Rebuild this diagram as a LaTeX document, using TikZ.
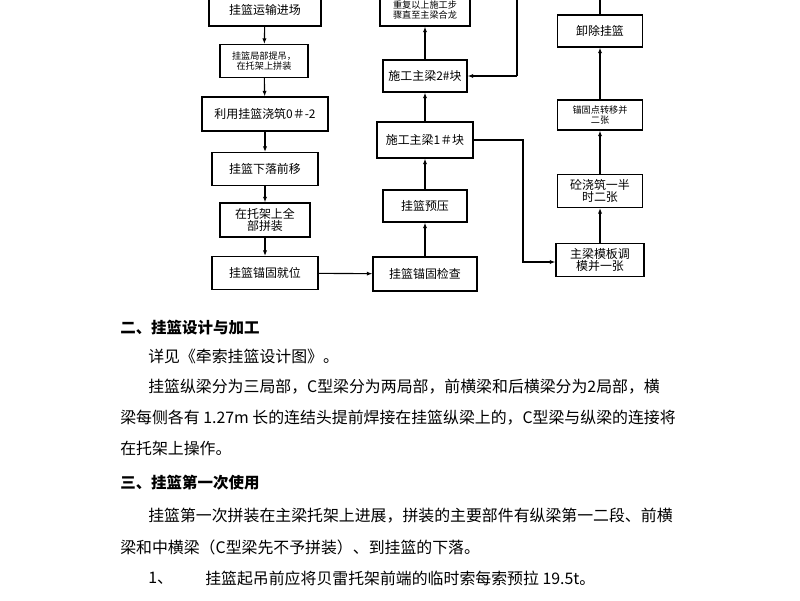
\documentclass[tikz,border=0pt]{standalone}
\usepackage{fontspec}
\setmainfont{Liberation Serif}
\newfontfamily\cjk{Noto Sans CJK SC}
\usetikzlibrary{positioning}
\usetikzlibrary{arrows.meta}

\tikzset{
    box/.style={draw, thick, align=center, inner sep=1pt, font=\cjk\fontsize{8.5}{9}\selectfont},
    small/.style={box, font=\cjk\fontsize{6.5}{7}\selectfont},
    flow/.style={-{Latex[length=4pt,width=3pt]}, thick},
    para/.style={anchor=west, inner sep=0pt, font=\cjk\fontsize{11.3}{12}\selectfont},
}

\begin{document}
\begin{tikzpicture}[x=0.025cm, y=-0.025cm]
    \useasboundingbox (0,0) rectangle (800,600);
    \clip (0,0) rectangle (800,600);

    % left column
    \node[box, minimum width=2.8cm, minimum height=0.8cm] (L1) at (265,10) {挂篮运输进场};
    \node[small, minimum width=2.2cm, minimum height=0.82cm] (L2) at (264,61) {挂篮局部提吊，\\在托架上拼装};
    \node[box, minimum width=3.15cm, minimum height=0.85cm] (L3) at (265,114) {利用挂篮浇筑0＃-2};
    \node[box, minimum width=2.65cm, minimum height=0.82cm] (L4) at (265,169) {挂篮下落前移};
    \node[box, minimum width=2.25cm, minimum height=0.85cm] (L5) at (265,220) {在托架上全\\部拼装};
    \node[box, minimum width=2.65cm, minimum height=0.82cm] (L6) at (265,273) {挂篮锚固就位};

    % middle column
    \node[small, minimum width=2.25cm, minimum height=0.8cm] (M1) at (425,10) {重复以上施工步\\骤直至主梁合龙};
    \node[box, minimum width=2.1cm, minimum height=0.8cm] (M2) at (425,76) {施工主梁2\#块};
    \node[box, minimum width=2.4cm, minimum height=0.9cm] (M3) at (425,140) {施工主梁1＃块};
    \node[box, minimum width=2.1cm, minimum height=0.8cm] (M4) at (425,206) {挂篮预压};
    \node[box, minimum width=2.6cm, minimum height=0.85cm] (M5) at (425,274) {挂篮锚固检查};

    % right column
    \node[box, minimum width=2.12cm, minimum height=0.8cm] (R1) at (600,31) {卸除挂篮};
    \node[small, minimum width=2.12cm, minimum height=0.75cm] (R2) at (600,115) {锚固点转移并\\二张};
    \node[box, minimum width=2.12cm, minimum height=0.82cm] (R3) at (600,191) {砼浇筑一半\\时二张};
    \node[box, minimum width=2.2cm, minimum height=0.82cm] (R4) at (600,260) {主梁模板调\\模并一张};

    \coordinate (t1) at (600,-10);
    \coordinate (t2) at (517,-10);
    \coordinate (t3) at (517,76);
    \coordinate (c1) at (523,140);
    \coordinate (c2) at (523,262);

    \draw[flow] (L1) -- (L2);
    \draw[flow] (L2) -- (L3);
    \draw[flow] (L3) -- (L4);
    \draw[flow] (L4) -- (L5);
    \draw[flow] (L5) -- (L6);
    \draw[flow] (L6) -- (M5);
    \draw[flow] (M5) -- (M4);
    \draw[flow] (M4) -- (M3);
    \draw[flow] (M3) -- (M2);
    \draw[flow] (M2) -- (M1);
    \draw[flow] (M3.east) -- (c1) -- (c2) -- (R4.west |- c2);
    \draw[flow] (R4) -- (R3);
    \draw[flow] (R3) -- (R2);
    \draw[flow] (R2) -- (R1);
    \draw[thick] (R1) -- (t1) -- (t2) -- (t3);
    \draw[flow] (t3) -- (M2.east);

    % text below
    \node[para, font=\cjk\bfseries\fontsize{11}{12}\selectfont] (h2) at (120,328) {二、挂篮设计与加工};
    \node[para] (p1) at (148,356) {详见《牵索挂篮设计图》。};
    \node[para] (p2) at (148,387) {挂篮纵梁分为三局部，C型梁分为两局部，前横梁和后横梁分为2局部，横};
    \node[para] (p3) at (120,418) {梁每侧各有 1.27m 长的连结头提前焊接在挂篮纵梁上的，C型梁与纵梁的连接将};
    \node[para] (p4) at (120,448) {在托架上操作。};
    \node[para, font=\cjk\bfseries\fontsize{11}{12}\selectfont] (h3) at (120,483) {三、挂篮第一次使用};
    \node[para] (p5) at (148,516) {挂篮第一次拼装在主梁托架上进展，拼装的主要部件有纵梁第一二段、前横};
    \node[para] (p6) at (120,547) {梁和中横梁（C型梁先不予拼装）、到挂篮的下落。};
    \node[para] (p7) at (148,578) {1、};
    \node[para] (p8) at (205,578) {挂篮起吊前应将贝雷托架前端的临时索每索预拉 19.5t。};
\end{tikzpicture}
\end{document}
